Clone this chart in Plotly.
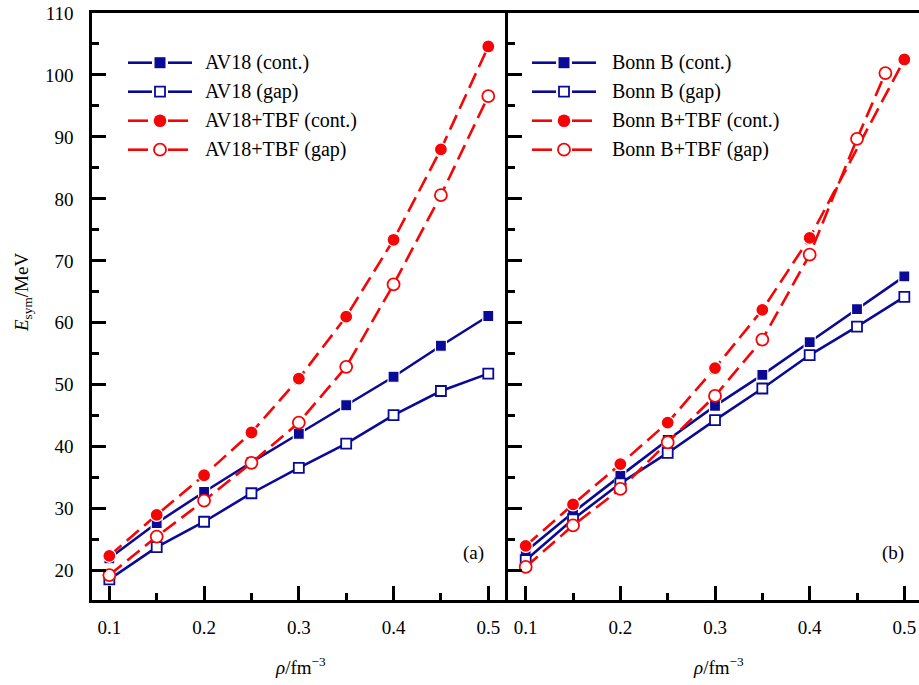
import plotly.graph_objects as go

# Density grid (fm^-3)
rho = [0.10, 0.15, 0.20, 0.25, 0.30, 0.35, 0.40, 0.45, 0.50]

# Panel (a): AV18 interaction
av18_cont = [22.0, 27.7, 32.7, 37.5, 42.1, 46.7, 51.3, 56.3, 61.1]
av18_gap = [18.6, 23.8, 27.9, 32.5, 36.6, 40.5, 45.1, 49.0, 51.8]
av18_tbf_cont = [22.4, 29.0, 35.4, 42.3, 51.0, 61.0, 73.4, 88.0, 104.6]
av18_tbf_gap = [19.3, 25.5, 31.3, 37.4, 43.9, 52.9, 66.2, 80.6, 96.6]

# Panel (b): Bonn B interaction
bonn_cont = [23.1, 29.4, 35.3, 41.1, 46.6, 51.6, 56.9, 62.2, 67.5]
bonn_gap = [21.7, 28.3, 34.1, 39.0, 44.3, 49.4, 54.8, 59.4, 64.2]
rho_bonn_tbf_cont = [0.10, 0.15, 0.20, 0.25, 0.30, 0.35, 0.40, 0.50]
bonn_tbf_cont = [24.0, 30.7, 37.2, 43.9, 52.7, 62.1, 73.7, 102.5]
rho_bonn_tbf_gap = [0.10, 0.15, 0.20, 0.25, 0.30, 0.35, 0.40, 0.45, 0.48]
bonn_tbf_gap = [20.6, 27.3, 33.2, 40.7, 48.2, 57.3, 71.0, 89.7, 100.3]

x_ticks = [0.1, 0.2, 0.3, 0.4, 0.5]
x_tick_text = ["0.1", "0.2", "0.3", "0.4", "0.5"]

legend_a = ["AV18 (cont.)", "AV18 (gap)", "AV18+TBF (cont.)", "AV18+TBF (gap)"]
legend_b = ["Bonn B (cont.)", "Bonn B (gap)", "Bonn B+TBF (cont.)", "Bonn B+TBF (gap)"]

BLUE = "#0a0a96"
RED = "#f50505"
FONT = "'Liberation Serif', 'Times New Roman', serif"

W, H = 919, 685
ML, MR, MT, MB = 92, 0, 13, 85
PW, PH = W - ML - MR, H - MT - MB
SPLIT = 508  # pixel x of the panel divider


def px(x):
    return (x - ML) / PW


def py(y):
    return (H - MB - y) / PH


STYLES = [
    dict(mode="lines+markers", line=dict(color=BLUE, width=2.6),
         marker=dict(symbol="square", size=11, color=BLUE, line=dict(color="white", width=1.2))),
    dict(mode="lines+markers", line=dict(color=BLUE, width=2.6),
         marker=dict(symbol="square", size=10, color="white", line=dict(color=BLUE, width=1.8))),
    dict(mode="lines+markers", line=dict(color=RED, width=2.6, dash="16px,7px"),
         marker=dict(symbol="circle", size=13, color=RED, line=dict(color="white", width=1.2))),
    dict(mode="lines+markers", line=dict(color=RED, width=2.6, dash="16px,7px"),
         marker=dict(symbol="circle", size=12, color="white", line=dict(color=RED, width=1.8))),
]

fig = go.Figure()

panel_a = [(rho, av18_cont), (rho, av18_gap), (rho, av18_tbf_cont), (rho, av18_tbf_gap)]
panel_b = [(rho, bonn_cont), (rho, bonn_gap),
           (rho_bonn_tbf_cont, bonn_tbf_cont), (rho_bonn_tbf_gap, bonn_tbf_gap)]

for (xs, ys), name, st in zip(panel_a, legend_a, STYLES):
    fig.add_trace(go.Scatter(x=xs, y=ys, name=name, xaxis="x", yaxis="y",
                             showlegend=False, cliponaxis=False, **st))
for (xs, ys), name, st in zip(panel_b, legend_b, STYLES):
    fig.add_trace(go.Scatter(x=xs, y=ys, name=name, xaxis="x2", yaxis="y2",
                             showlegend=False, cliponaxis=False, **st))

tickfont = dict(family=FONT, size=19, color="black")

common_x = dict(
    tickvals=x_ticks, ticktext=x_tick_text, ticks="inside", ticklen=14, tickwidth=3,
    tickcolor="black", showline=True, linecolor="black", linewidth=2.5, mirror=True,
    showgrid=False, zeroline=False, tickfont=tickfont, ticklabelstandoff=8,
    minor=dict(tickvals=[0.15, 0.25, 0.35, 0.45], ticks="inside", ticklen=7,
               tickwidth=3, tickcolor="black", showgrid=False),
)
common_y = dict(
    range=[15.27, 110], tick0=0, dtick=10, ticks="inside", ticklen=14, tickwidth=3,
    tickcolor="black", showline=True, linecolor="black", linewidth=2.5,
    showgrid=False, zeroline=False, tickfont=tickfont, ticklabelstandoff=12,
    minor=dict(dtick=5, ticks="inside", ticklen=7, tickwidth=3, tickcolor="black",
               showgrid=False),
)

fig.update_layout(
    width=W, height=H,
    margin=dict(l=ML, r=MR, t=MT, b=MB),
    paper_bgcolor="white", plot_bgcolor="white",
    showlegend=False,
    font=dict(family=FONT, size=19, color="black"),
    xaxis=dict(domain=[0, px(SPLIT)], range=[0.0817, 0.5208], anchor="y", **common_x),
    xaxis2=dict(domain=[px(SPLIT), 1], range=[0.0813, 0.5155], anchor="y2", **common_x),
    yaxis=dict(domain=[0, 1], anchor="x", **common_y),
    yaxis2=dict(domain=[0, 1], anchor="x2", matches="y", showticklabels=False, **common_y),
)

# Legend block drawn for each panel
shapes = []
annotations = []
rows = [62.7, 91.7, 120.7, 149.7]


def legend_block(x0, x1, xm, xt, labels):
    for i, lab in enumerate(labels):
        y = rows[i]
        col = BLUE if i < 2 else RED
        if i < 2:
            segs = ((x0, xm - 8), (xm + 8, x1))
        else:
            segs = ((x0, xm - 12), (xm + 8, x1 - 4))
        for a, b in segs:
            shapes.append(dict(type="line", xref="paper", yref="paper",
                               x0=px(a), x1=px(b), y0=py(y), y1=py(y),
                               line=dict(color=col, width=2.6)))
        filled = i in (0, 2)
        if i < 2:
            r = 5.5 if filled else 5
            shapes.append(dict(type="rect", xref="paper", yref="paper",
                               x0=px(xm - r), x1=px(xm + r), y0=py(y + r), y1=py(y - r),
                               fillcolor=col if filled else "white",
                               line=dict(color=col, width=0 if filled else 1.8)))
        else:
            r = 6.3 if filled else 6
            shapes.append(dict(type="circle", xref="paper", yref="paper",
                               x0=px(xm - r), x1=px(xm + r), y0=py(y + r), y1=py(y - r),
                               fillcolor=col if filled else "white",
                               line=dict(color=col, width=0 if filled else 1.8)))
        annotations.append(dict(text=lab, xref="paper", yref="paper", x=px(xt), y=py(y),
                                xanchor="left", yanchor="middle", showarrow=False,
                                font=dict(family=FONT, size=20, color="black")))


legend_block(128, 192, 160, 203, legend_a)
legend_block(532, 596, 564, 610, legend_b)

annotations += [
    dict(text="<i>E</i><sub>sym</sub>/MeV", xref="paper", yref="paper",
         x=px(23), y=py(293), textangle=-90, showarrow=False,
         xanchor="center", yanchor="middle", font=dict(family=FONT, size=19, color="black")),
    dict(text="<i>ρ</i>/fm<sup>−3</sup>", xref="paper", yref="paper",
         x=px(300), y=py(666), showarrow=False, xanchor="center", yanchor="middle",
         font=dict(family=FONT, size=19, color="black")),
    dict(text="<i>ρ</i>/fm<sup>−3</sup>", xref="paper", yref="paper",
         x=px(718), y=py(666), showarrow=False, xanchor="center", yanchor="middle",
         font=dict(family=FONT, size=19, color="black")),
    dict(text="(a)", xref="paper", yref="paper", x=px(473), y=py(553), showarrow=False,
         xanchor="center", yanchor="middle", font=dict(family=FONT, size=19, color="black")),
    dict(text="(b)", xref="paper", yref="paper", x=px(893), y=py(553), showarrow=False,
         xanchor="center", yanchor="middle", font=dict(family=FONT, size=19, color="black")),
]

fig.update_layout(shapes=shapes, annotations=annotations)

fig.write_html("out.html")
